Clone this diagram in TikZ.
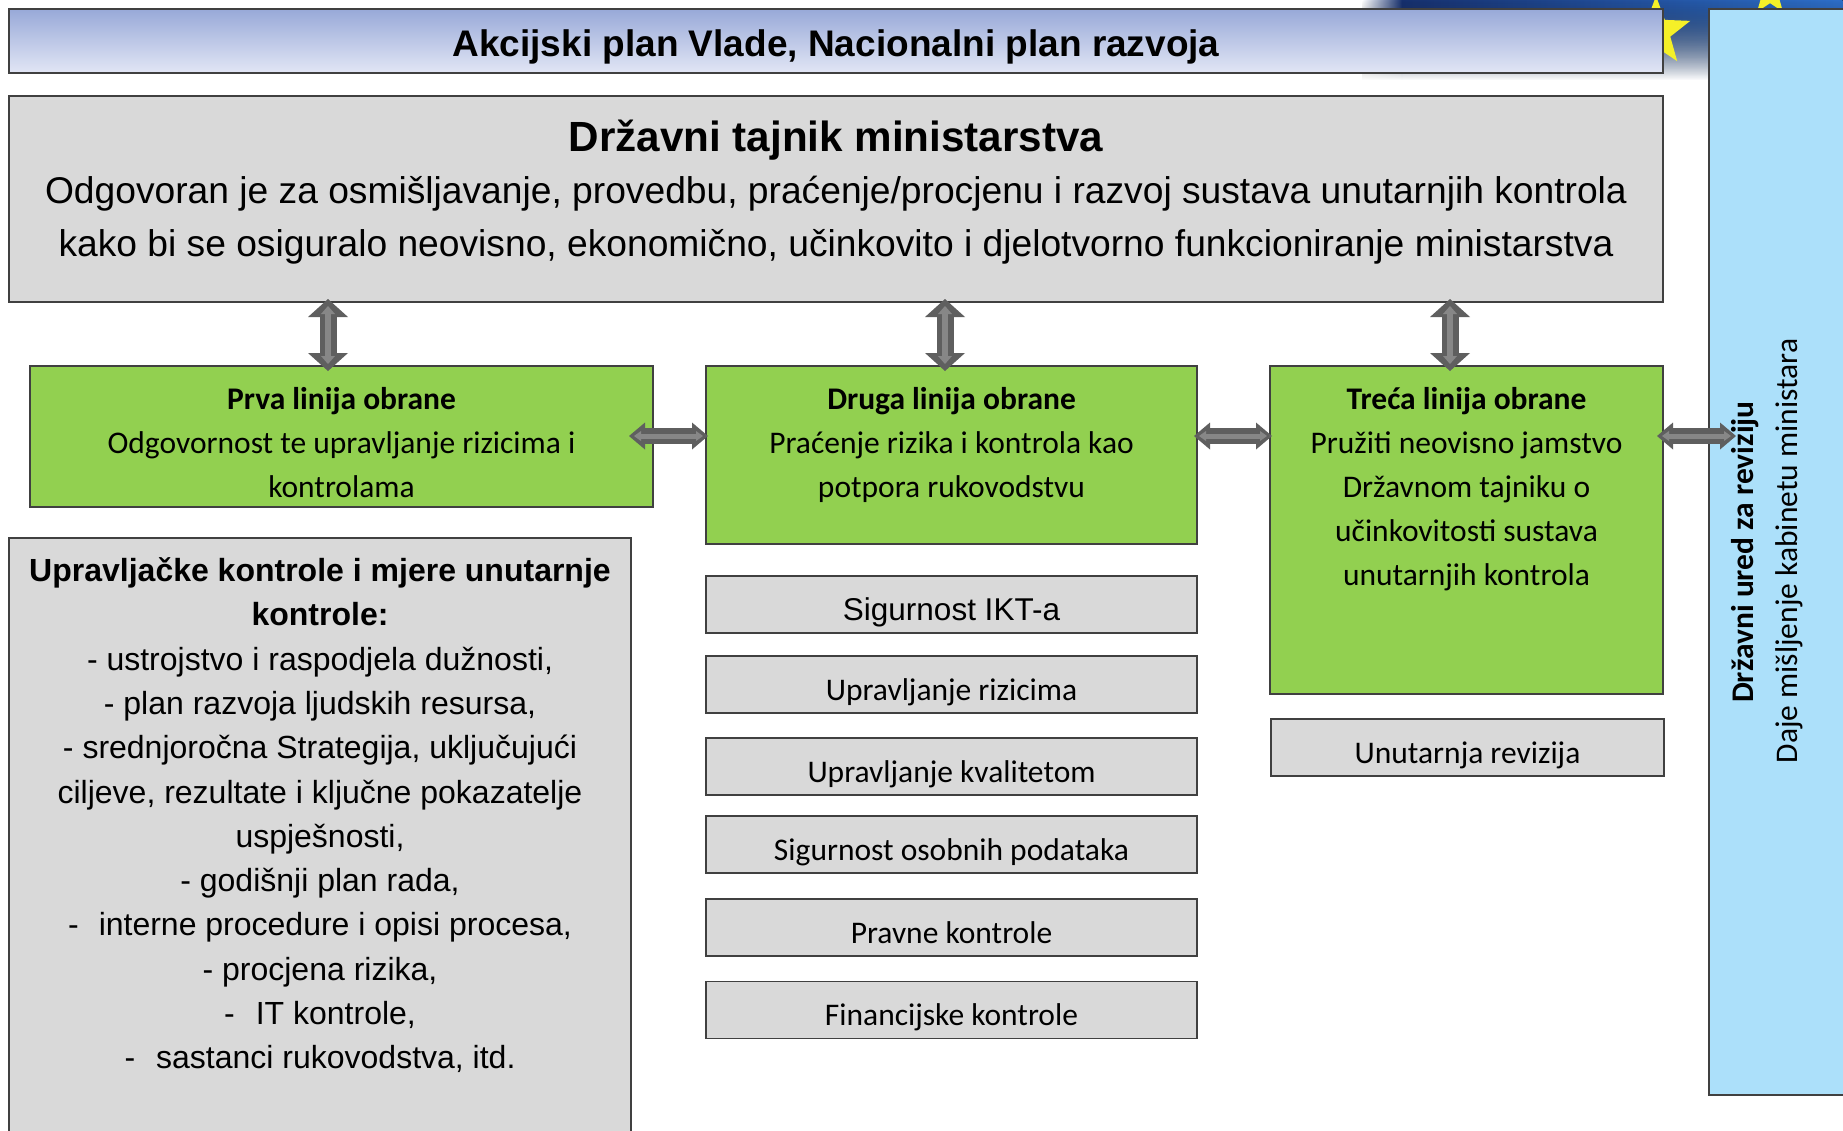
\documentclass[tikz,border=0pt]{standalone}
\usepackage{fontspec}
\setmainfont{Carlito}
\newfontfamily\arialf{Liberation Sans}
\usetikzlibrary{arrows.meta,shapes.geometric,fadings}

\definecolor{greenfill}{RGB}{146,208,80}
\definecolor{grayfill}{RGB}{217,217,217}
\definecolor{bluefill}{RGB}{172,224,250}
\definecolor{edgecol}{RGB}{64,64,64}
\definecolor{arrdark}{RGB}{95,95,95}
\definecolor{arrlight}{RGB}{135,135,135}
\definecolor{titletop}{RGB}{152,169,216}
\definecolor{titlebot}{RGB}{226,230,245}
\definecolor{eunavy}{RGB}{22,48,110}
\definecolor{eublue}{RGB}{45,110,200}
\definecolor{starcol}{RGB}{245,240,40}

\tikzfading[name=fadeS, top color=transparent!0, middle color=transparent!15, bottom color=transparent!100]

\tikzset{
  box/.style={draw=edgecol, line width=1.6pt, inner sep=0pt, outer sep=0pt},
  greenbox/.style={box, fill=greenfill},
  graybox/.style={box, fill=grayfill},
  bluebox/.style={box, fill=bluefill},
  calf/.style={font=\fontsize{31.5}{44.2}\selectfont},
  midbox/.style={graybox, minimum width=491pt, minimum height=57pt, text height=31pt, text depth=0pt, calf},
  txt/.style={inner sep=0pt, outer sep=0pt, align=center},
  vouter/.style={draw=arrdark, line width=17pt,
     {Triangle[width=40pt,length=18pt,line width=0pt]}-{Triangle[width=40pt,length=18pt,line width=0pt]}},
  vinner/.style={draw=arrlight, line width=6pt,
     {Triangle[width=14pt,length=8pt,line width=0pt]}-{Triangle[width=14pt,length=8pt,line width=0pt]}},
  houter/.style={draw=arrdark, line width=16pt,
     {Triangle[width=27pt,length=16pt,line width=0pt]}-{Triangle[width=27pt,length=16pt,line width=0pt]}},
  hinner/.style={draw=arrlight, line width=5pt,
     {Triangle[width=10pt,length=7pt,line width=0pt]}-{Triangle[width=10pt,length=7pt,line width=0pt]}},
}

\begin{document}
\begin{tikzpicture}[x=1pt,y=-1pt]
\useasboundingbox (0,0) rectangle (1843,1130);
\clip (0,0) rectangle (1843,1130);

% background decoration (top right)
\fill[left color=white, right color=eunavy, path fading=fadeS] (1362,0) rectangle (1402,80);
\fill[left color=eunavy, right color=eublue, path fading=fadeS] (1402,0) rectangle (1843,80);
\node[star, star points=5, star point ratio=2.4, fill=starcol, minimum size=72pt, inner sep=0pt] (star1) at (1656,32) {};
\node[star, star points=5, star point ratio=2.4, fill=starcol, minimum size=44pt, inner sep=0pt] (star2) at (1770,-6) {};

% title bar
\node[box, top color=titletop, bottom color=titlebot, minimum width=1654pt, minimum height=64pt,
      text height=30pt, text depth=0pt, font=\arialf\bfseries\fontsize{37}{44}\selectfont]
      (title) at (836,41) {Akcijski plan Vlade, Nacionalni plan razvoja};

% top gray box
\node[graybox, minimum width=1654pt, minimum height=206pt] (top) at (836,199) {};
\node[txt, anchor=base, font=\arialf\bfseries\fontsize{42.2}{50}\selectfont] (topT) at (836,151) {Državni tajnik ministarstva};
\node[txt, anchor=north, font=\arialf\fontsize{37.2}{53}\selectfont] (topB) at (836,173.5)
  {\rule{0pt}{30pt}Odgovoran je za osmišljavanje, provedbu, praćenje/procjenu i razvoj sustava unutarnjih kontrola\\
   kako bi se osiguralo neovisno, ekonomično, učinkovito i djelotvorno funkcioniranje ministarstva};

% right blue box
\node[bluebox, minimum width=161pt, minimum height=1086pt] (dur) at (1789.5,552) {};
\node[txt, rotate=90, anchor=base, font=\bfseries\fontsize{31.5}{44}\selectfont] (durT) at (1753,552) {Državni ured za reviziju};
\node[txt, rotate=90, anchor=base, font=\fontsize{31.5}{44}\selectfont] (durB) at (1797,551) {Daje mišljenje kabinetu ministara};

% green boxes
\node[greenbox, minimum width=623pt, minimum height=141pt] (prva) at (341.5,436.5) {};
\node[txt, anchor=north, calf] (prvaT) at (341.5,384)
  {\rule{0pt}{25pt}\textbf{Prva linija obrane}\\Odgovornost te upravljanje rizicima i\\kontrolama};

\node[greenbox, minimum width=491pt, minimum height=178pt] (druga) at (951.5,455) {};
\node[txt, anchor=north, calf] (drugaT) at (951.5,384)
  {\rule{0pt}{25pt}\textbf{Druga linija obrane}\\Praćenje rizika i kontrola kao\\potpora rukovodstvu};

\node[greenbox, minimum width=393pt, minimum height=328pt] (treca) at (1466.5,530) {};
\node[txt, anchor=north, calf] (trecaT) at (1466.5,384)
  {\rule{0pt}{25pt}\textbf{Treća linija obrane}\\Pružiti neovisno jamstvo\\Državnom tajniku o\\učinkovitosti sustava\\unutarnjih kontrola};

% left gray box
\node[graybox, minimum width=622pt, minimum height=602pt] (upr) at (320,839) {};
\node[txt, anchor=north, font=\arialf\fontsize{32}{44.3}\selectfont] (uprT) at (320,555.5)
  {\rule{0pt}{26pt}\textbf{Upravljačke kontrole i mjere unutarnje}\\
   \textbf{kontrole:}\\
   - ustrojstvo i raspodjela dužnosti,\\
   - plan razvoja ljudskih resursa,\\
   - srednjoročna Strategija, uključujući\\
   ciljeve, rezultate i ključne pokazatelje\\
   uspješnosti,\\
   - godišnji plan rada,\\
   -\hspace{20pt}interne procedure i opisi procesa,\\
   - procjena rizika,\\
   -\hspace{21pt}IT kontrole,\\
   -\hspace{21pt}sastanci rukovodstva, itd.};

% middle column boxes
\node[midbox, text height=31pt, font=\arialf\fontsize{31.5}{40}\selectfont] (ikt) at (951.5,604.5) {Sigurnost IKT-a};
\node[midbox] (rizik) at (951.5,684.5) {Upravljanje rizicima};
\node[midbox] (kval) at (951.5,766.5) {Upravljanje kvalitetom};
\node[midbox] (osob) at (951.5,844.5) {Sigurnost osobnih podataka};
\node[midbox] (pravne) at (951.5,927.5) {Pravne kontrole};
\node[midbox] (fin) at (951.5,1010) {Financijske kontrole};

% right column box
\node[midbox, minimum width=393pt] (unut) at (1467.5,747.5) {Unutarnja revizija};

% arrow positions
\coordinate (v1) at (328,0);
\coordinate (v2) at (945,0);
\coordinate (v3) at (1450,0);
\coordinate (h) at (0,436);

% vertical double arrows
\draw[vouter, shorten <=-3pt, shorten >=-5pt] (top.south -| v1) -- (prva.north -| v1);
\draw[vinner, shorten <=4pt, shorten >=2pt] (top.south -| v1) -- (prva.north -| v1);
\draw[vouter, shorten <=-3pt, shorten >=-5pt] (top.south -| v2) -- (druga.north -| v2);
\draw[vinner, shorten <=4pt, shorten >=2pt] (top.south -| v2) -- (druga.north -| v2);
\draw[vouter, shorten <=-3pt, shorten >=-5pt] (top.south -| v3) -- (treca.north -| v3);
\draw[vinner, shorten <=4pt, shorten >=2pt] (top.south -| v3) -- (treca.north -| v3);

% horizontal double arrows
\draw[houter, shorten <=-24pt, shorten >=-2pt] (prva.east |- h) -- (druga.west |- h);
\draw[hinner, shorten <=-19pt, shorten >=3pt] (prva.east |- h) -- (druga.west |- h);
\draw[houter, shorten <=-3pt, shorten >=-2pt] (druga.east |- h) -- (treca.west |- h);
\draw[hinner, shorten <=2pt, shorten >=3pt] (druga.east |- h) -- (treca.west |- h);
\draw[houter, shorten <=-6pt, shorten >=-27pt] (treca.east |- h) -- (dur.west |- h);
\draw[hinner, shorten <=-1pt, shorten >=-22pt] (treca.east |- h) -- (dur.west |- h);
\end{tikzpicture}
\end{document}
